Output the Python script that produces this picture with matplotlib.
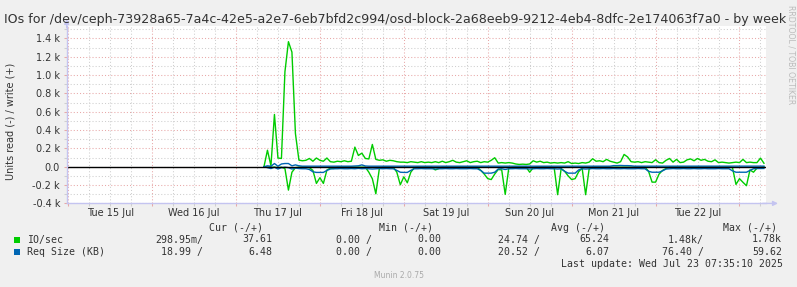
import matplotlib
matplotlib.use('Agg')
import matplotlib.pyplot as plt
import numpy as np
from matplotlib.ticker import FixedLocator, FixedFormatter
from matplotlib.patches import Rectangle

# ---------------- data ----------------
title = ("IOs for /dev/ceph-73928a65-7a4c-42e5-a2e7-6eb7bfd2c994/osd-block-"
         "2a68eeb9-9212-4eb4-8dfc-2e174063f7a0 - by week")
day_labels = ["Tue 15 Jul", "Wed 16 Jul", "Thu 17 Jul", "Fri 18 Jul",
              "Sat 19 Jul", "Sun 20 Jul", "Mon 21 Jul", "Tue 22 Jul"]
# hours relative to Thu 17 Jul 00:00 (hourly samples, Thu 08:00 .. Wed 23 07:00)
first_hour, last_hour = 8, 151
end_hour = 151.585          # Wed 23 Jul 07:35
span_hours = 200

# IO/sec write (+)
write_io = [
    0, 180, 10, 570, 95, 90, 1036, 1364, 1250, 363, 72, 65, 70, 90, 60, 95,            # Thu
    70, 60, 95, 55, 50, 60, 55, 65, 55, 60, 214, 123, 148, 90, 85, 243, 80, 70, 75, 60, 70, 65, 55, 50,  # Fri
    50, 45, 55, 50, 45, 55, 45, 50, 45, 55, 45, 60, 45, 55, 70, 50, 45, 55, 65, 45, 55, 60, 45, 55,     # Sat
    50, 70, 98, 40, 45, 40, 45, 40, 30, 25, 28, 25, 30, 65, 50, 60, 45, 50, 40, 45, 40, 45, 40, 55,     # Sun
    35, 40, 35, 45, 40, 50, 87, 60, 65, 55, 80, 60, 50, 40, 55, 134, 107, 55, 50, 55, 45, 55, 50, 45,   # Mon
    76, 45, 40, 70, 90, 50, 80, 45, 50, 75, 85, 65, 90, 70, 80, 60, 55, 75, 45, 50, 45, 40, 45, 50,     # Tue
    45, 80, 45, 50, 45, 45, 94, 38,                                                    # Wed
]
# IO/sec read (-)
read_io = [
    0, 5, 5, 5, 10, 5, 20, 255, 60, 10, 5, 5, 5, 10, 40, 182,
    120, 182, 37, 15, 20, 5, 5, 5, 5, 5, 5, 5, 5, 5, 60, 131, 295, 20, 5, 5, 5, 5, 60, 197,
    110, 175, 60, 10, 5, 5, 5, 5, 5, 35, 20, 5, 5, 5, 5, 5, 5, 5, 5, 5, 5, 5, 40, 80,
    130, 140, 80, 30, 35, 302, 20, 5, 5, 5, 5, 5, 60, 10, 5, 5, 5, 5, 5, 10, 305, 20, 50, 100,
    140, 130, 55, 15, 305, 25, 5, 5, 5, 5, 5, 5, 5, 5, 5, 5, 5, 5, 5, 5, 5, 5, 50, 168,
    168, 80, 40, 20, 5, 5, 5, 5, 5, 5, 5, 5, 5, 5, 5, 5, 5, 5, 5, 5, 5, 5, 10, 193,
    130, 170, 207, 35, 60, 15, 10, 0.3,
]
# Req Size (KB) write (+)
write_kb = [
    0, 10, 5, 35, 5, 30, 35, 35, 10, 20, 10, 6, 6, 6, 6, 6,
    6, 6, 6, 5, 6, 6, 5, 6, 6, 6, 8, 10, 20, 8, 6, 6, 6, 5, 6, 6, 6, 6, 6, 6,
    6, 5, 6, 6, 5, 6, 6, 6, 5, 6, 6, 6, 6, 5, 6, 6, 6, 6, 5, 6, 6, 6, 6, 6,
    6, 6, 5, 6, 6, 6, 5, 6, 6, 6, 6, 5, 6, 6, 6, 6, 6, 5, 6, 6, 6, 6, 6, 6,
    6, 6, 6, 5, 6, 6, 6, 6, 5, 6, 6, 6, 12, 12, 14, 12, 12, 10, 6, 6, 6, 5, 6, 6,
    6, 6, 5, 6, 6, 6, 6, 5, 6, 6, 6, 6, 5, 6, 6, 6, 6, 6, 5, 6, 6, 6, 6, 6,
    6, 6, 6, 6, 6, 5, 6, 6.5,
]
# Req Size (KB) read (-)
read_kb = [
    0, 10, 20, 5, 25, 10, 5, 10, 25, 15, 20, 22, 22, 30, 55, 62,
    62, 62, 40, 25, 22, 22, 20, 22, 22, 20, 22, 18, 22, 20, 22, 25, 22, 20, 22, 20, 22, 22, 40, 60,
    62, 62, 40, 22, 22, 20, 22, 22, 22, 25, 22, 22, 20, 22, 22, 20, 22, 22, 22, 20, 22, 22, 40, 70,
    70, 70, 60, 25, 22, 30, 22, 22, 20, 22, 22, 22, 25, 22, 20, 22, 22, 20, 22, 22, 25, 22, 50, 70,
    70, 70, 35, 22, 25, 22, 20, 22, 22, 20, 22, 22, 20, 22, 22, 20, 22, 22, 22, 20, 22, 22, 50, 60,
    60, 60, 45, 25, 22, 20, 22, 22, 20, 22, 22, 20, 22, 22, 20, 22, 22, 22, 20, 22, 22, 22, 45, 60,
    60, 60, 60, 40, 22, 20, 20, 19,
]

series_names = ["IO/sec", "Req Size (KB)"]
series_colors = ["#00CC00", "#0066B3"]
legend_headers = ["Cur (-/+)", "Min (-/+)", "Avg (-/+)", "Max (-/+)"]
legend_rows = [
    ["298.95m/", "37.61", "0.00 /", "0.00", "24.74 /", "65.24", "1.48k/", "1.78k"],
    ["18.99 /", "6.48", "0.00 /", "0.00", "20.52 /", "6.07", "76.40 /", "59.62"],
]
last_update = "Last update: Wed Jul 23 07:35:10 2025"
ytick_values = [-400, -200, 0, 200, 400, 600, 800, 1000, 1200, 1400]
ytick_labels = ["-0.4 k", "-0.2 k", "0.0", "0.2 k", "0.4 k", "0.6 k",
                "0.8 k", "1.0 k", "1.2 k", "1.4 k"]
ymin, ymax = -400, 1535

# ---------------- layout ----------------
W, H = 797, 287
BG = "#F0F0F0"
fig = plt.figure(figsize=(W / 100, H / 100), dpi=100, facecolor=BG)


def fx(px):
    return px / W


def fy(py):
    return 1 - py / H


ax_l, ax_r, ax_t, ax_b = 66.7, 766.0, 26.0, 203.4
ax = fig.add_axes([fx(ax_l), fy(ax_b), (ax_r - ax_l) / W, (ax_b - ax_t) / H])
ax.set_facecolor("white")

hours = np.arange(first_hour, last_hour + 1)
w_io = np.array(write_io, dtype=float)
r_io = np.array(read_io, dtype=float)
w_kb = np.array(write_kb, dtype=float)
r_kb = np.array(read_kb, dtype=float)

lw = 1.0
ax.plot(hours, w_io, color=series_colors[0], lw=lw, zorder=3)
ax.plot(hours, -r_io, color=series_colors[0], lw=lw, zorder=3)
ax.plot(hours, w_kb, color=series_colors[1], lw=lw, zorder=4)
ax.plot(hours, -r_kb, color=series_colors[1], lw=lw, zorder=4)
ax.axhline(0, color="black", lw=1.0, zorder=5)

ax.set_xlim(end_hour - span_hours, end_hour)
ax.set_ylim(ymin, ymax)

start_day = -48
midnights = list(range(start_day, int(end_hour) + 1, 24))
six_hours = [h for h in range(start_day, int(end_hour) + 1, 6) if h % 24 != 0]
ax.xaxis.set_major_locator(FixedLocator(midnights))
ax.xaxis.set_minor_locator(FixedLocator(six_hours))
ax.yaxis.set_major_locator(FixedLocator(ytick_values))
ax.yaxis.set_minor_locator(FixedLocator([v + 100 for v in ytick_values]))
ax.yaxis.set_major_formatter(FixedFormatter(ytick_labels))

major_col = "#E8A8A8"
minor_col = "#CFCFCF"
dots = (0, (1, 2))
ax.grid(which="major", color=major_col, linestyle=dots, lw=0.75, zorder=1)
ax.grid(which="minor", color=minor_col, linestyle=dots, lw=0.75, zorder=1)
ax.set_axisbelow(True)

ax.tick_params(axis="x", which="both", labelbottom=False, direction="out")
ax.tick_params(axis="x", which="major", length=2.2, width=0.75, color=major_col)
ax.tick_params(axis="x", which="minor", length=2.2, width=0.75, color=minor_col)
ax.tick_params(axis="y", which="major", length=2.2, width=0.75, color=major_col,
               labelsize=7, labelcolor="#333333", pad=2.6)
ax.tick_params(axis="y", which="minor", length=2.2, width=0.75, color=minor_col)

for s in ("top", "right"):
    ax.spines[s].set_visible(False)
axis_col = "#C4C4F0"
for s in ("left", "bottom"):
    ax.spines[s].set_color(axis_col)
    ax.spines[s].set_linewidth(1.0)
    ax.spines[s].set_zorder(6)

ax.annotate("", xy=(1 + 12 / (ax_r - ax_l), 0), xytext=(0.995, 0),
            xycoords="axes fraction", textcoords="axes fraction",
            arrowprops=dict(arrowstyle="-|>", color=axis_col, lw=1.0,
                            mutation_scale=7, shrinkA=0, shrinkB=0),
            annotation_clip=False)
ax.annotate("", xy=(0, 1 + 7 / (ax_b - ax_t)), xytext=(0, 0.99),
            xycoords="axes fraction", textcoords="axes fraction",
            arrowprops=dict(arrowstyle="-|>", color=axis_col, lw=1.0,
                            mutation_scale=7, shrinkA=0, shrinkB=0),
            annotation_clip=False)

# day labels at noon
xt = ax.get_xaxis_transform()
for i, lab in enumerate(day_labels):
    ax.text(start_day + 24 * i + 12, -9.8 / (ax_b - ax_t), lab, transform=xt,
            ha="center", va="center", fontsize=7, color="#333333")

# y label
fig.text(fx(11), fy(121), "Units read (-) / write (+)", rotation=90,
         ha="center", va="center", fontsize=7, color="#333333")

# title (fit to measured width)
title_left, title_right = 5.5, 785.0
t = fig.text(fx((title_left + title_right) / 2), fy(23), title, ha="center",
             va="baseline", fontsize=9, color="#333333")
fig.canvas.draw()
bb = t.get_window_extent()
t.set_fontsize(9 * (title_right - title_left) / bb.width)

# right side credit
fig.text(fx(790.5), fy(5), "RRDTOOL / TOBI OETIKER", rotation=270,
         ha="center", va="top", fontsize=5.6, color="#BBBBBB")

# legend
mono = "DejaVu Sans Mono"
ms = 7.15
tc = "#333333"
header_right = [263, 433, 605, 777]
for hx, htxt in zip(header_right, legend_headers):
    fig.text(fx(hx), fy(228), htxt, ha="right", va="center", family=mono,
             fontsize=ms, color=tc)
value_right = [203, 272, 372, 441, 540, 609, 704, 782]
row_y = [239.5, 252]
for ry, name, col, vals in zip(row_y, series_names, series_colors, legend_rows):
    fig.add_artist(Rectangle((fx(14), fy(ry + 3)), 6 / W, 6 / H,
                             transform=fig.transFigure, color=col, lw=0))
    fig.text(fx(26.7), fy(ry), name, ha="left", va="center", family=mono,
             fontsize=ms, color=tc)
    for vx, v in zip(value_right, vals):
        fig.text(fx(vx), fy(ry), v, ha="right", va="center", family=mono,
                 fontsize=ms, color=tc)
fig.text(fx(783), fy(264), last_update, ha="right", va="center", family=mono,
         fontsize=ms, color=tc)
fig.text(fx(398.5), fy(276), "Munin 2.0.75", ha="center", va="center",
         fontsize=5.5, color="#AAAAAA")

fig.savefig("out.png", dpi=100, facecolor=BG)
